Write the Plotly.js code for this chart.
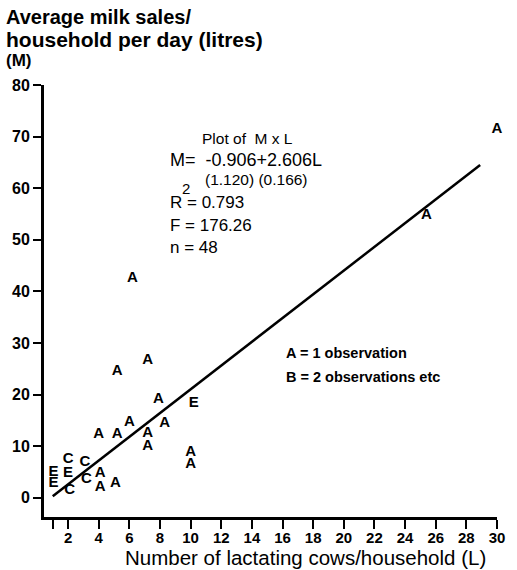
<!DOCTYPE html>
<html>
<head>
<meta charset="utf-8">
<script src="https://cdn.plot.ly/plotly-3.0.1.min.js"></script>
<style>html,body{margin:0;padding:0;background:#fff;}#chart{width:517px;height:570px;}</style>
</head>
<body>
<div id="chart"></div>
<script>
// Observations: lactating cows per household (L) vs average milk sales (M)
const cowsL = [1.05, 1.05, 2.0, 2.0, 2.1, 3.1, 3.2, 4.1, 4.1, 5.1, 4.0, 5.2, 7.2, 7.2, 6.0, 8.3, 7.9, 10.2, 10.0, 10.0, 5.2, 7.2, 6.2, 25.4, 30.0];
const milkM = [5.0, 2.9, 7.4, 4.8, 1.4, 6.8, 3.6, 4.8, 2.1, 2.8, 12.3, 12.3, 12.5, 10.0, 14.7, 14.5, 19.0, 18.3, 8.9, 6.5, 24.6, 26.6, 42.5, 54.8, 71.4];
const countLetter = ['E', 'E', 'C', 'E', 'C', 'C', 'C', 'A', 'A', 'A', 'A', 'A', 'A', 'A', 'A', 'A', 'A', 'E', 'A', 'A', 'A', 'A', 'A', 'A', 'A'];
// Fitted line as drawn
const fitL = [1.0, 28.9];
const fitM = [0.3, 64.5];
// Axis ticks
const xTickVals = [1, 2, 4, 6, 8, 10, 12, 14, 16, 18, 20, 22, 24, 26, 28, 30];
const xTickText = ['', '2', '4', '6', '8', '10', '12', '14', '16', '18', '20', '22', '24', '26', '28', '30'];
const yTickVals = [0, 10, 20, 30, 40, 50, 60, 70, 80];
// Texts
const titleLines = ['Average milk sales/', 'household per day (litres)', '(M)'];
const statLines = ['Plot of  M x L', 'M=  -0.906+2.606L', '(1.120) (0.166)', 'R = 0.793', 'F = 176.26', 'n = 48'];
const legendLines = ['A = 1 observation', 'B = 2 observations etc'];

const L = 44.3, R = 496.7, T = 85, B = 517;
const W = 517, H = 570;
const px = x => (x - L) / (R - L);
const py = y => (B - y) / (B - T);

const FONT = 'Liberation Sans, Arial, sans-serif';
const ann = (text, x, y, size, weight, anchor) => ({
  text: text, xref: 'paper', yref: 'paper', x: px(x), y: py(y),
  xanchor: anchor || 'left', yanchor: 'middle', showarrow: false,
  font: {family: FONT, size: size, color: '#000', weight: weight || 'normal'}
});

const traces = [
  {
    x: fitL, y: fitM, mode: 'lines', type: 'scatter',
    line: {color: '#000', width: 2.5}, hoverinfo: 'skip'
  },
  {
    x: cowsL, y: milkM, mode: 'text', type: 'scatter', text: countLetter,
    textposition: 'middle center', cliponaxis: false,
    textfont: {family: FONT, size: 15, color: '#000', weight: 'bold'}
  }
];

const annotations = [
  ann(titleLines[0], 4, 17, 20, 'bold'),
  ann(titleLines[1], 4, 40, 21, 'bold'),
  ann(titleLines[2], 4, 61, 17, 'bold'),
  ann(statLines[0], 200, 138, 15.5),
  ann(statLines[1], 168, 160, 18),
  ann(statLines[2], 203, 179, 15.5),
  ann('2', 180, 188, 15),
  ann(statLines[3], 168, 202, 17),
  ann(statLines[4], 168, 225, 17),
  ann(statLines[5], 168, 247, 17),
  ann(legendLines[0], 284, 353, 14.5, 'bold'),
  ann(legendLines[1], 284, 377, 14.5, 'bold'),
  ann('Number of lactating cows/household (L)', 305, 557, 20.5, 'normal', 'center')
];

const layout = {
  width: W, height: H,
  margin: {l: L, r: W - R, t: T, b: H - B, pad: 0},
  paper_bgcolor: '#fff', plot_bgcolor: '#fff',
  showlegend: false,
  xaxis: {
    range: [0.43, 30], showgrid: false, zeroline: false,
    showline: true, linecolor: '#000', linewidth: 3,
    ticks: 'outside', ticklen: 9, tickwidth: 2, tickcolor: '#000',
    tickmode: 'array', tickvals: xTickVals, ticktext: xTickText,
    tickfont: {family: FONT, size: 15, color: '#000', weight: 'bold'},
    ticklabelstandoff: -4,
    fixedrange: true
  },
  yaxis: {
    range: [-3.74, 80], showgrid: false, zeroline: false,
    showline: true, linecolor: '#000', linewidth: 3,
    ticks: 'outside', ticklen: 8, tickwidth: 2, tickcolor: '#000',
    tickmode: 'array', tickvals: yTickVals,
    tickfont: {family: FONT, size: 16, color: '#000', weight: 'bold'},
    fixedrange: true
  },
  annotations: annotations
};

Plotly.newPlot('chart', traces, layout, {displayModeBar: false, staticPlot: true});
</script>
</body>
</html>
